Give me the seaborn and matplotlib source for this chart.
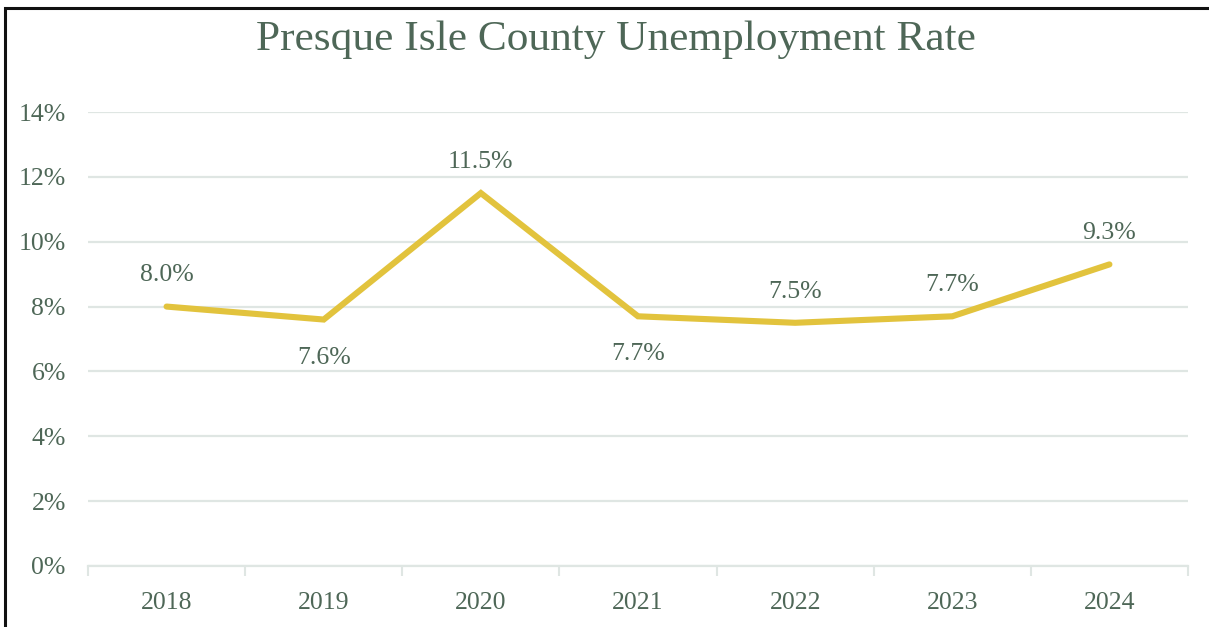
import matplotlib
matplotlib.use("Agg")
import matplotlib.pyplot as plt
from matplotlib.patches import Rectangle
import pandas as pd
import seaborn as sns

years = ["2018", "2019", "2020", "2021", "2022", "2023", "2024"]
rates = [8.0, 7.6, 11.5, 7.7, 7.5, 7.7, 9.3]
label_above = [True, False, True, False, True, True, True]
y_ticks = [0, 2, 4, 6, 8, 10, 12, 14]
title = "Presque Isle County Unemployment Rate"

text_color = "#4e6757"
line_color = "#e2c33d"
grid_color = "#dfe6e3"

sns.set_theme(style="white")
plt.rcParams["font.family"] = ["Liberation Serif", "DejaVu Serif"]

df = pd.DataFrame({"year": years, "rate": rates})
df["pos"] = range(len(years))

fig = plt.figure(figsize=(12.09, 6.27), dpi=100)
ax = fig.add_axes([88 / 1209, 1 - 566 / 627, 1100 / 1209, 454 / 627])

sns.lineplot(data=df, x="pos", y="rate", ax=ax, color=line_color,
             linewidth=4.4, solid_capstyle="round", solid_joinstyle="miter")

for x, y, up in zip(df["pos"], df["rate"], label_above):
    ax.annotate(f"{y:.1f}%", (x, y), xytext=(0, 22.5 if up else -27.5),
                textcoords="offset points", ha="center", va="center",
                fontsize=18.5, color=text_color)

ax.set_xlim(-0.5, len(years) - 0.5)
ax.set_ylim(0, 14)
ax.set_xticks(range(len(years)))
ax.set_xticklabels(years)
ax.set_xticks([i - 0.5 for i in range(len(years) + 1)], minor=True)
ax.set_yticks(y_ticks)
ax.set_yticklabels([f"{t}%" for t in y_ticks])
ax.tick_params(axis="x", which="major", bottom=True, length=0, pad=19,
               labelsize=18.5, labelcolor=text_color)
ax.tick_params(axis="x", which="minor", bottom=True, length=7, width=1.5,
               color=grid_color, direction="out")
ax.tick_params(axis="y", length=0, pad=16, labelsize=18.5, labelcolor=text_color)
ax.set_xlabel("")
ax.set_ylabel("")

ax.grid(axis="y", color=grid_color, linewidth=1.6)
ax.set_axisbelow(True)
for side in ["top", "right", "left"]:
    ax.spines[side].set_visible(False)
ax.spines["bottom"].set_color(grid_color)
ax.spines["bottom"].set_linewidth(1.6)

fig.text(616 / 1209, 1 - 40 / 627, title, ha="center", va="center",
         fontsize=31.2, color=text_color)

# outer frame
fig.patches.append(Rectangle((5 / 1209, -0.1), 1.2, 1.1 - 8 / 627,
                             transform=fig.transFigure, fill=False,
                             edgecolor="#111111", linewidth=2.2))

fig.savefig("out.png", dpi=100)
